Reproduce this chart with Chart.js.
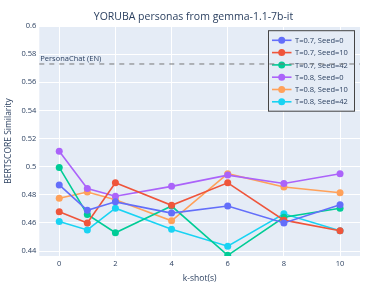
<!DOCTYPE html>
<html>
<head>
<meta charset="utf-8">
<script src="https://cdn.jsdelivr.net/npm/chart.js@4.4.0/dist/chart.umd.min.js"></script>
<style>
  html, body { margin: 0; padding: 0; background: #fff; }
  #wrap { width: 387px; height: 291px; }
</style>
</head>
<body>
<div id="wrap"><canvas id="chart" width="387" height="291"></canvas></div>
<script>
const shots = [0, 1, 2, 4, 6, 8, 10];
const seriesNames = ['T=0.7, Seed=0', 'T=0.7, Seed=10', 'T=0.7, Seed=42', 'T=0.8, Seed=0', 'T=0.8, Seed=10', 'T=0.8, Seed=42'];
const t07s0  = [0.487, 0.469, 0.475, 0.467, 0.472, 0.460, 0.473];
const t07s10 = [0.468, 0.460, 0.4885, 0.4725, 0.4885, 0.462, 0.4545];
const t07s42 = [0.4995, 0.466, 0.453, 0.472, 0.437, 0.464, 0.4705];
const t08s0  = [0.511, 0.4845, 0.479, 0.486, 0.494, 0.488, 0.495];
const t08s10 = [0.4775, 0.482, 0.4765, 0.4615, 0.495, 0.4855, 0.4815];
const t08s42 = [0.461, 0.455, 0.4705, 0.4555, 0.4435, 0.4665, 0.4545];
const personaChatEN = 0.573;
const xTicks = [0, 2, 4, 6, 8, 10];
const yTicks = [0.44, 0.46, 0.48, 0.5, 0.52, 0.54, 0.56, 0.58, 0.6];
const colors = ['#636efa', '#EF553B', '#00cc96', '#ab63fa', '#FFA15A', '#19d3f3'];

const allSeries = [t07s0, t07s10, t07s42, t08s0, t08s10, t08s42];
const FONT = '"Open Sans", "DejaVu Sans", sans-serif';
const TXT = '#2a3f5f';

// plot background, reference line, legend, titles
const decor = {
    id: 'decor',
    beforeDraw(chart) {
        const { ctx, chartArea: a } = chart;
        ctx.save();
        ctx.fillStyle = '#E5ECF6';
        ctx.fillRect(a.left, a.top, a.right - a.left, a.bottom - a.top);
        ctx.restore();
    },
    afterDraw(chart) {
        const { ctx, chartArea: a } = chart;
        const ys = chart.scales.y;
        ctx.save();

        // legend box
        const lx = a.right - 5.5, ly = a.top + 4.7;
        const bx = 268.5, bw = lx - bx, bh = 80.5;
        ctx.fillStyle = '#E5ECF6';
        ctx.fillRect(bx, ly, bw, bh);
        ctx.strokeStyle = '#444';
        ctx.lineWidth = 1;
        ctx.strokeRect(bx, ly, bw, bh);
        ctx.font = '7.5px ' + FONT;
        ctx.textBaseline = 'middle';
        ctx.textAlign = 'left';
        seriesNames.forEach((name, i) => {
            const ry = ly + 9.6 + i * 12.3;
            ctx.strokeStyle = colors[i];
            ctx.lineWidth = 1.6;
            ctx.beginPath();
            ctx.moveTo(272, ry);
            ctx.lineTo(291.5, ry);
            ctx.stroke();
            ctx.fillStyle = colors[i];
            ctx.beginPath();
            ctx.arc(281.7, ry, 3.5, 0, Math.PI * 2);
            ctx.fill();
            ctx.fillStyle = TXT;
            ctx.fillText(name, 295, ry + 0.5);
        });

        // reference line
        const hy = ys.getPixelForValue(personaChatEN);
        ctx.strokeStyle = '#777';
        ctx.lineWidth = 1;
        ctx.setLineDash([5, 5]);
        ctx.beginPath();
        ctx.moveTo(a.left, hy);
        ctx.lineTo(a.right, hy);
        ctx.stroke();
        ctx.setLineDash([]);
        ctx.fillStyle = TXT;
        ctx.font = '7.5px ' + FONT;
        ctx.textBaseline = 'alphabetic';
        ctx.fillText('PersonaChat (EN)', a.left + 1, hy - 2.5);

        // titles
        ctx.textAlign = 'center';
        ctx.font = '10.5px ' + FONT;
        ctx.fillText('YORUBA personas from gemma-1.1-7b-it', chart.width / 2, 20);
        ctx.font = '8.5px ' + FONT;
        ctx.textBaseline = 'middle';
        ctx.fillText('k-shot(s)', (a.left + a.right) / 2, 279);
        ctx.translate(9, (a.top + a.bottom) / 2);
        ctx.rotate(-Math.PI / 2);
        ctx.fillText('BERTSCORE Similarity', 0, 0);
        ctx.restore();
    }
};

new Chart(document.getElementById('chart').getContext('2d'), {
    type: 'line',
    data: {
        datasets: allSeries.map((vals, i) => ({
            label: seriesNames[i],
            data: shots.map((x, j) => ({ x: x, y: vals[j] })),
            borderColor: colors[i],
            backgroundColor: colors[i],
            borderWidth: 1.6,
            pointRadius: 3.5,
            pointBorderWidth: 0,
            pointHoverRadius: 3.5,
            tension: 0
        }))
    },
    options: {
        responsive: false,
        animation: false,
        layout: { padding: { left: 0, right: 27, top: 26, bottom: 0 } },
        plugins: {
            legend: { display: false },
            title: { display: false },
            tooltip: { enabled: false }
        },
        scales: {
            x: {
                type: 'linear',
                min: -0.71,
                max: 10.71,
                afterBuildTicks: s => { s.ticks = xTicks.map(v => ({ value: v })); },
                afterFit: s => { s.height = 35; },
                grid: { color: '#ffffff', lineWidth: 1, drawTicks: false },
                border: { display: false },
                ticks: {
                    color: TXT,
                    padding: 3,
                    maxRotation: 0,
                    font: { family: FONT, size: 7.5 },
                    callback: v => String(v)
                }
            },
            y: {
                min: 0.4365,
                max: 0.6,
                afterBuildTicks: s => { s.ticks = yTicks.map(v => ({ value: v })); },
                afterFit: s => { s.width = 39.3; },
                grid: { color: '#ffffff', lineWidth: 1, drawTicks: false },
                border: { display: false },
                ticks: {
                    color: TXT,
                    padding: 3,
                    font: { family: FONT, size: 7.5 },
                    callback: v => String(+v.toFixed(2))
                }
            }
        }
    },
    plugins: [decor]
});
</script>
</body>
</html>
